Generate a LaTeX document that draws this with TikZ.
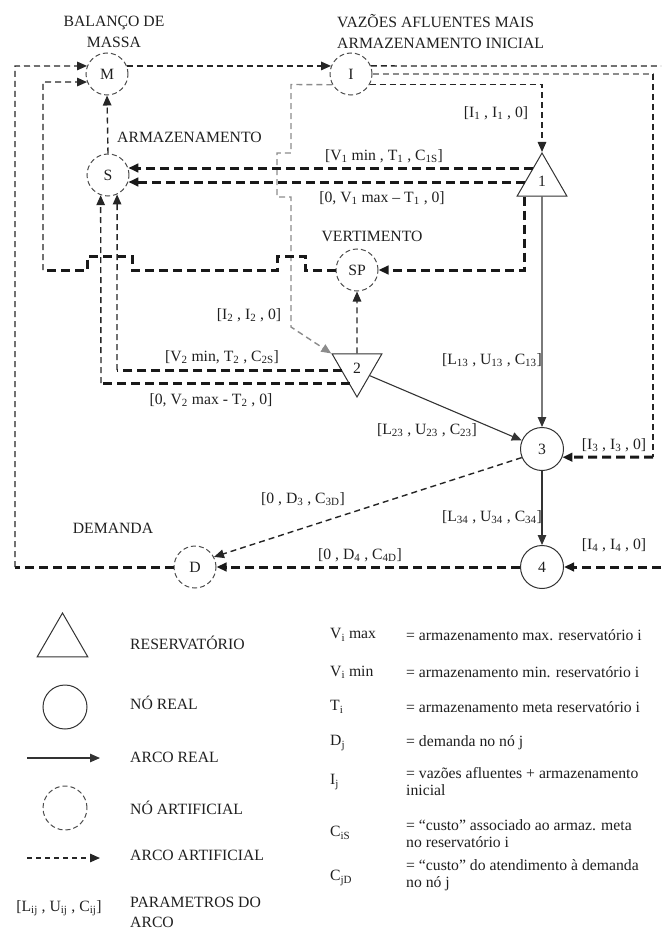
\documentclass[tikz,border=0pt]{standalone}
\usepackage{fontspec}
\setmainfont{Liberation Serif}
\usetikzlibrary{arrows.meta,shapes.geometric}
\definecolor{txt}{gray}{0.12}
\begin{document}
\begin{tikzpicture}[x=1pt,y=-1pt,
  font=\fontsize{15.7}{21}\selectfont,
  every node/.append style={text=txt},
  tip/.style={-{Triangle[length=10pt,width=8.5pt]}},
  artnode/.style={circle,draw=black!70,line width=1pt,dash pattern=on 5pt off 3pt,minimum size=42pt,inner sep=0pt},
  realnode/.style={circle,draw=black!80,line width=1pt,minimum size=43pt,inner sep=0pt},
  resnode/.style={regular polygon,regular polygon sides=3,draw=black!80,line width=1pt,minimum size=57.4pt,inner sep=0pt},
  thinarc/.style={draw=black!85,line width=1.4pt,dash pattern=on 6pt off 4pt},
  greyarc/.style={draw=black!45,line width=1.4pt,dash pattern=on 6pt off 4pt},
  thickarc/.style={draw=black!90,line width=3pt,dash pattern=on 9pt off 5pt},
  realarc/.style={draw=black!80,line width=1.1pt},
  lab/.style={inner sep=0pt},
  deftext/.style={inner sep=0pt,anchor=west,align=left,font=\fontsize{15.7}{17}\selectfont}
]
\useasboundingbox (0,0) rectangle (661,947);

% ---------- nodes ----------
\node[artnode] (M) at (107,74) {M};
\node[artnode] (I) at (351,74) {I};
\node[artnode] (S) at (108,175) {S};
\node[artnode] (SP) at (357,270) {SP};
\node[artnode] (D) at (195,567) {D};
\node[realnode] (n3) at (542,449) {3};
\node[realnode] (n4) at (542,567) {4};
\node[resnode] (t1) at (542,181.7) {1};
\node[resnode,shape border rotate=180] (t2) at (357,368.3) {2};

% ---------- coordinates ----------
\coordinate (eTop) at (661,66);
\coordinate (eBot) at (661,567);
\coordinate (r1) at (653,74);
\coordinate (r2) at (653,457);
\coordinate (l1) at (15,567);
\coordinate (l2) at (15,66);
\coordinate (m1) at (43,270);
\coordinate (m2) at (43,82);
\coordinate (t1b) at (524,196.5);
\coordinate (sp1) at (524,270);
\coordinate (a1) at (342.4,370);
\coordinate (a2) at (117,370);
\coordinate (b1) at (349.9,383);
\coordinate (b2) at (101,383);
\coordinate (g1) at (291,84.5);
\coordinate (g6) at (291,327);

% ---------- artificial arcs ----------
\draw[thinarc,tip] (M.22) -- (I.158);
\draw[thinarc,tip] (S.north) -- (M.south);
\draw[thinarc] (I.22) -- (eTop);
\draw[greyarc] (I.east) -- (r1);
\draw[thinarc] (r1) -- (r2);
\draw[thickarc,tip] (r2) -- (n3.-22);
\draw[thinarc,tip] (I.-30) -- (I.-30 -| t1.north) -- (t1.north);
\draw[greyarc,tip] (I.210) -- (g1) -- (291,153) -- (277,153) -- (277,197) -- (291,197) -- (g6) -- (t2.150);
\draw[thickarc,tip] (t1.122 |- S.19.5) -- (S.19.5);
\draw[thickarc,tip] (t1.west |- S.-19.5) -- (S.-19.5);
\draw[thickarc,tip] (t1b) -- (sp1) -- (SP.east);
\draw[thickarc] (SP.west) -- (305,270) -- (305,256) -- (277,256) -- (277,270) -- (132,270) -- (132,256) -- (87,256) -- (87,270) -- (m1);
\draw[thinarc,tip] (m1) -- (m2) -- (M.202);
\draw[thickarc] (a1) -- (a2);
\draw[thinarc,tip] (a2) -- (S.-65);
\draw[thickarc] (b1) -- (b2);
\draw[thinarc,tip] (b2) -- (S.-110);
\draw[thinarc,tip] (t2.north) -- (SP.south);
\draw[thinarc,tip] (n3.203) -- (D.28);
\draw[thickarc,tip] (n4.west) -- (D.east);
\draw[thickarc,tip] (eBot) -- (n4.east);
\draw[thickarc] (D.west) -- (l1);
\draw[thinarc,tip] (l1) -- (l2) -- (M.158);

% ---------- real arcs ----------
\draw[realarc,tip] (t1.south) -- (n3.north);
\draw[realarc,tip] (n3.south) -- (n4.north);
\draw[realarc,tip] (t2.-30) -- (n3);

% ---------- titles ----------
\node[lab,align=center] (tBal) at (114,31.5) {BALANÇO DE\\MASSA};
\node[lab,align=left,anchor=west] (tVaz) at (337,31.5) {VAZÕES AFLUENTES MAIS\\ARMAZENAMENTO INICIAL};
\node[lab,anchor=west] (tArm) at (117,137) {ARMAZENAMENTO};
\node[lab] (tVer) at (372,236) {VERTIMENTO};
\node[lab] (tDem) at (113,528) {DEMANDA};

% ---------- arc labels ----------
\node[lab] (e1) at (496,113) {[I\textsubscript{1} , I\textsubscript{1} , 0]};
\node[lab] (e2) at (384,156) {[V\textsubscript{1} min , T\textsubscript{1} , C\textsubscript{1S}]};
\node[lab] (e3) at (382,198) {[0, V\textsubscript{1} max -- T\textsubscript{1} , 0]};
\node[lab] (e4) at (249,315) {[I\textsubscript{2} , I\textsubscript{2} , 0]};
\node[lab] (e5) at (222,357) {[V\textsubscript{2} min, T\textsubscript{2} , C\textsubscript{2S}]};
\node[lab] (e6) at (211,400) {[0, V\textsubscript{2} max - T\textsubscript{2} , 0]};
\node[lab] (e7) at (492,360) {[L\textsubscript{13} , U\textsubscript{13} , C\textsubscript{13}]};
\node[lab] (e8) at (427,430) {[L\textsubscript{23} , U\textsubscript{23} , C\textsubscript{23}]};
\node[lab] (e9) at (614,445) {[I\textsubscript{3} , I\textsubscript{3} , 0]};
\node[lab] (e10) at (303,499) {[0 , D\textsubscript{3} , C\textsubscript{3D}]};
\node[lab] (e11) at (492,517) {[L\textsubscript{34} , U\textsubscript{34} , C\textsubscript{34}]};
\node[lab] (e12) at (614,545) {[I\textsubscript{4} , I\textsubscript{4} , 0]};
\node[lab] (e13) at (360,555) {[0 , D\textsubscript{4} , C\textsubscript{4D}]};

% ---------- legend ----------
\node[resnode,minimum size=58.6pt] (kTri) at (62.5,642.3) {};
\node[realnode,minimum size=44pt] (kReal) at (65,707) {};
\coordinate (ka1) at (27,758);
\coordinate (ka2) at (100,758);
\draw[realarc,tip] (ka1) -- (ka2);
\node[artnode,minimum size=44pt] (kArt) at (65,808) {};
\coordinate (kb1) at (27,858);
\coordinate (kb2) at (100,858);
\draw[thinarc,dash pattern=on 5pt off 4pt,tip] (kb1) -- (kb2);
\node[lab] (kPar) at (59,908) {[L\textsubscript{ij} , U\textsubscript{ij} , C\textsubscript{ij}]};

\node[deftext] (k1) at (130,643) {RESERVATÓRIO};
\node[deftext] (k2) at (130,703) {NÓ REAL};
\node[deftext] (k3) at (130,757) {ARCO REAL};
\node[deftext] (k4) at (130,808) {NÓ ARTIFICIAL};
\node[deftext] (k5) at (130,855) {ARCO ARTIFICIAL};
\node[deftext,font=\fontsize{15.7}{20}\selectfont] (k6) at (130,912) {PARAMETROS DO\\ARCO};

\node[deftext] (s1) at (330,635) {V\textsubscript{i} max};
\node[deftext] (s2) at (330,672) {V\textsubscript{i} min};
\node[deftext] (s3) at (330,707) {T\textsubscript{i}};
\node[deftext] (s4) at (330,743) {D\textsubscript{j}};
\node[deftext] (s5) at (330,782) {I\textsubscript{j}};
\node[deftext] (s6) at (330,833) {C\textsubscript{iS}};
\node[deftext] (s7) at (330,878) {C\textsubscript{jD}};

\node[deftext] (d1) at (406,635) {= armazenamento max. reservatório i};
\node[deftext] (d2) at (406,672) {= armazenamento min. reservatório i};
\node[deftext] (d3) at (406,707) {= armazenamento meta reservatório i};
\node[deftext] (d4) at (406,743) {= demanda no nó j};
\node[deftext] (d5) at (406,781.5) {= vazões afluentes + armazenamento\\inicial};
\node[deftext] (d6) at (406,834) {= “custo” associado ao armaz. meta\\no reservatório i};
\node[deftext] (d7) at (406,875.5) {= “custo” do atendimento à demanda\\no nó j};
\end{tikzpicture}
\end{document}
